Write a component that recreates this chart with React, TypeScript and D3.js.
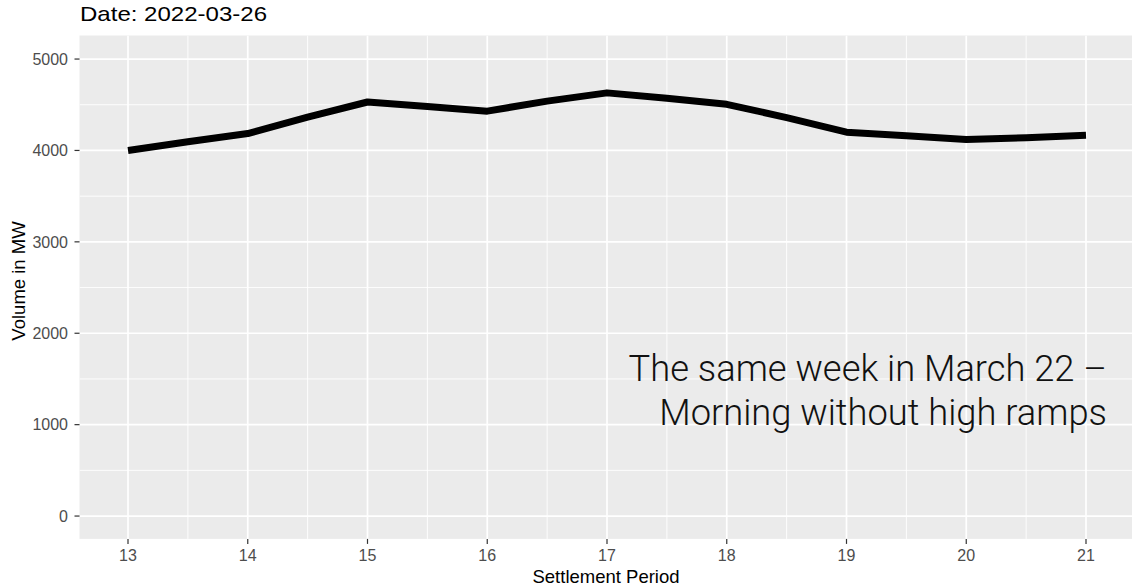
import React from "react";
import * as d3 from "d3";

const periods = [13, 13.5, 14, 14.5, 15, 15.5, 16, 16.5, 17, 17.5, 18, 18.5, 19, 19.5, 20, 20.5, 21];
const volumes = [4000, 4095, 4185, 4365, 4530, 4480, 4430, 4540, 4630, 4570, 4505, 4360, 4200, 4160, 4120, 4140, 4165];
const xTicks = [13, 14, 15, 16, 17, 18, 19, 20, 21];
const yTicks = [0, 1000, 2000, 3000, 4000, 5000];
const xMinor = [12.5, 13.5, 14.5, 15.5, 16.5, 17.5, 18.5, 19.5, 20.5, 21.5];
const yMinor = [500, 1500, 2500, 3500, 4500];
const titleText = "Date: 2022-03-26";
const xTitle = "Settlement Period";
const yTitle = "Volume in MW";
const noteLines = ["The same week in March 22 \u2013", "Morning without high ramps"];

const W = 1132;
const H = 588;

export default function App() {
  const x = d3.scaleLinear().domain([12.6, 21.4]).range([80.1, 1133.9]);
  const y = d3.scaleLinear().domain([-250, 5250]).range([538.9, 36.2]);
  const pL = 79.5;
  const pR = W;
  const pT = 35.5;
  const pB = y.range()[0];
  const line = d3
    .line<number>()
    .x((_, i) => x(periods[i]))
    .y((v) => y(v));
  const font = "'Liberation Sans', Arial, sans-serif";
  return (
    <svg width={W} height={H} style={{ position: "absolute", left: 0, top: 0, background: "#fff" }}>
      <text
        x={80}
        y={21}
        fontFamily={font}
        fontSize={21}
        fill="#000"
        textLength={187}
        lengthAdjust="spacingAndGlyphs"
      >
        {titleText}
      </text>
      <rect x={pL} y={pT} width={pR - pL} height={pB - pT} fill="#EBEBEB" />
      <clipPath id="panel">
        <rect x={pL} y={pT} width={pR - pL} height={pB - pT} />
      </clipPath>
      <g clipPath="url(#panel)">
        {xMinor.map((t) => (
          <line key={"xm" + t} x1={x(t)} x2={x(t)} y1={pT} y2={pB} stroke="#fff" strokeWidth={0.9} />
        ))}
        {yMinor.map((t) => (
          <line key={"ym" + t} x1={pL} x2={pR} y1={y(t)} y2={y(t)} stroke="#fff" strokeWidth={0.9} />
        ))}
        {xTicks.map((t) => (
          <line key={"xg" + t} x1={x(t)} x2={x(t)} y1={pT} y2={pB} stroke="#fff" strokeWidth={1.7} />
        ))}
        {yTicks.map((t) => (
          <line key={"yg" + t} x1={pL} x2={pR} y1={y(t)} y2={y(t)} stroke="#fff" strokeWidth={1.7} />
        ))}
        <path d={line(volumes) || ""} fill="none" stroke="#000" strokeWidth={7} strokeLinejoin="round" />
        {noteLines.map((s, i) => (
          <text
            key={i}
            x={1107}
            y={381 + i * 44}
            textAnchor="end"
            fontFamily="Roboto, 'Open Sans', sans-serif"
            fontWeight={300}
            fontSize={36.3}
            fill="#111"
          >
            {s}
          </text>
        ))}
      </g>
      {yTicks.map((t) => (
        <g key={"yt" + t}>
          <line x1={pL - 5} x2={pL} y1={y(t)} y2={y(t)} stroke="#333" strokeWidth={1.2} />
          <text x={pL - 11.5} y={y(t)} dy="0.36em" textAnchor="end" fontFamily={font} fontSize={16} fill="#4D4D4D">
            {t}
          </text>
        </g>
      ))}
      {xTicks.map((t) => (
        <g key={"xt" + t}>
          <line x1={x(t)} x2={x(t)} y1={pB} y2={pB + 5} stroke="#333" strokeWidth={1.2} />
          <text x={x(t)} y={pB + 22} textAnchor="middle" fontFamily={font} fontSize={16} fill="#4D4D4D">
            {t}
          </text>
        </g>
      ))}
      <text x={606} y={583} textAnchor="middle" fontFamily={font} fontSize={18.5} fill="#000">
        {xTitle}
      </text>
      <text
        transform={`translate(25, 281) rotate(-90)`}
        textAnchor="middle"
        fontFamily={font}
        fontSize={18.5}
        fill="#000"
      >
        {yTitle}
      </text>
    </svg>
  );
}
